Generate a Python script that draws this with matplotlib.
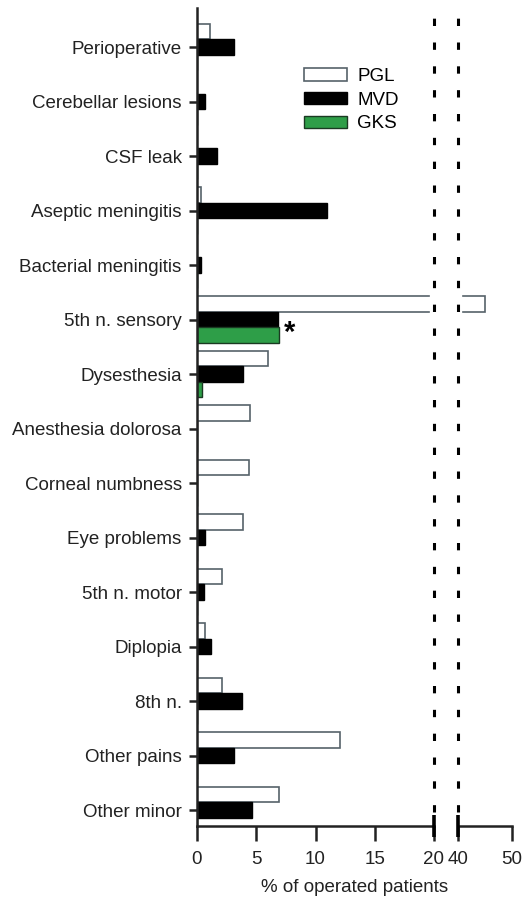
import matplotlib
matplotlib.use("Agg")
import matplotlib.pyplot as plt
import matplotlib.transforms as mtransforms
import numpy as np

plt.rcParams['font.family'] = ['Liberation Sans', 'DejaVu Sans']

categories = ['Perioperative', 'Cerebellar lesions', 'CSF leak', 'Aseptic meningitis',
              'Bacterial meningitis', '5th n. sensory', 'Dysesthesia', 'Anesthesia dolorosa',
              'Corneal numbness', 'Eye problems', '5th n. motor', 'Diplopia', '8th n.',
              'Other pains', 'Other minor']
pgl = [1.1, 0, 0, 0.3, 0, 45.0, 5.95, 4.5, 4.35, 3.9, 2.15, 0.7, 2.15, 12.1, 6.9]
mvd = [3.15, 0.7, 1.7, 11.0, 0.3, 6.8, 3.85, 0, 0, 0.7, 0.6, 1.15, 3.8, 3.15, 4.6]
gks = [0, 0, 0, 0, 0, 6.95, 0.4, 0, 0, 0, 0, 0, 0, 0, 0]

W, H = 523, 908
fs = 13.5
fig = plt.figure(figsize=(W / 100, H / 100), dpi=100)
bot = 1 - 826 / H
top = 1 - 8 / H
ax1 = fig.add_axes([197 / W, bot, (434 - 197) / W, top - bot])
ax2 = fig.add_axes([457.7 / W, bot, (511.7 - 457.7) / W, top - bot], sharey=ax1)

y = np.arange(len(categories))
h = 0.284
pgl_edge = '#56626a'
green = '#2e9e48'

for ax in (ax1, ax2):
    ax.barh(y - h, pgl, height=h, color='white', edgecolor=pgl_edge, linewidth=1.2, label='PGL')
    ax.barh(y, mvd, height=h, color='black', edgecolor='black', linewidth=1, label='MVD')
    ax.barh(y + h, gks, height=h, color=green, edgecolor='#1a3a22', linewidth=1, label='GKS')
    ax.spines['top'].set_visible(False)
    ax.spines['right'].set_visible(False)
    for s in ('left', 'bottom'):
        ax.spines[s].set_linewidth(1.8)
        ax.spines[s].set_color('#222222')
    ax.tick_params(axis='x', length=11, width=1.8, labelsize=fs, pad=7,
                   color='#222222', labelcolor='#222222')

ax1.set_xlim(0, 20)
ax2.set_xlim(40, 50)
ax1.set_ylim(14.29, -0.716)
ax1.set_xticks([0, 5, 10, 15, 20])
ax2.set_xticks([40, 50])
ax1.set_yticks(y)
ax1.set_yticklabels(categories, fontsize=fs, color='#222222')
ax1.tick_params(axis='y', length=6, width=1.8, pad=5, color='#222222')
ax2.spines['left'].set_visible(False)
ax2.tick_params(axis='y', left=False, labelleft=False)

# broken axis marks
axh = 818
for ax, xb in ((ax1, 20), (ax2, 40)):
    tr = mtransforms.blended_transform_factory(ax.transData, ax.transAxes)
    ax.plot([xb, xb], [14 / axh, 1], transform=tr, color='white', lw=6,
            clip_on=False, zorder=2.5, solid_capstyle='butt')
    ax.plot([xb, xb], [-11 / axh, 11 / axh], transform=tr, color='black', lw=2.6,
            clip_on=False, solid_capstyle='butt', zorder=3)
    ax.plot([xb, xb], [14 / axh, 1 - 10 / axh], transform=tr, color='black', lw=2.2,
            linestyle=(0, (2.4, 5.4)), clip_on=False, zorder=3)

ax1.text(7.3, 5.25, '*', fontsize=21, fontweight='bold', ha='left', va='center')

fig.text(355 / W, 1 - 888 / H, '% of operated patients', fontsize=fs, ha='center',
         va='center', color='#222222')

handles, labels = ax1.get_legend_handles_labels()
fig.legend(handles, labels, loc='upper left', bbox_to_anchor=(304 / W, 1 - 68 / H),
           frameon=False, fontsize=fs, handlelength=2.3, handleheight=0.64,
           labelspacing=0.36, handletextpad=0.55, borderpad=0, borderaxespad=0)

fig.savefig('out.png', dpi=100)
